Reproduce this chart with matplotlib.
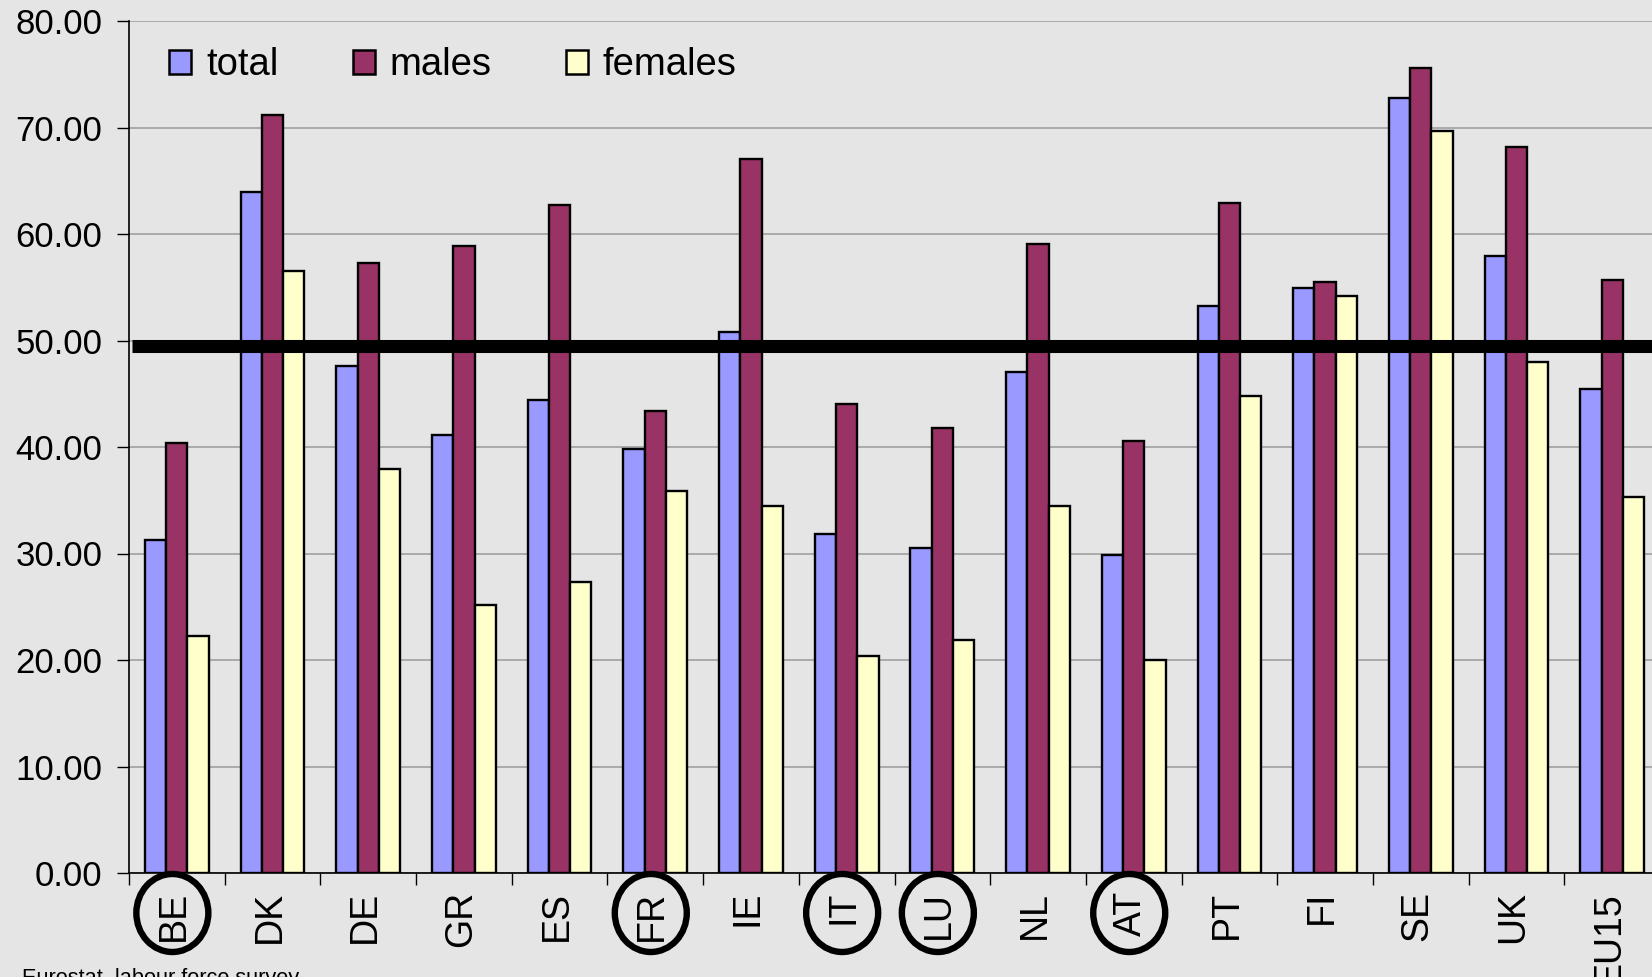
import matplotlib
matplotlib.use("Agg")
import matplotlib.pyplot as plt
import matplotlib.transforms as mtransforms
from matplotlib.patches import Ellipse
import numpy as np

plt.rcParams['font.family'] = ['Liberation Sans', 'DejaVu Sans']

countries = ["BE", "DK", "DE", "GR", "ES", "FR", "IE", "IT", "LU", "NL",
             "AT", "PT", "FI", "SE", "UK", "EU15"]
total = [31.3, 63.9, 47.6, 41.1, 44.4, 39.8, 50.8, 31.8, 30.5, 47.0,
         29.9, 53.2, 54.9, 72.8, 57.9, 45.4]
males = [40.4, 71.2, 57.3, 58.9, 62.7, 43.4, 67.0, 44.0, 41.8, 59.1,
         40.6, 62.9, 55.5, 75.6, 68.2, 55.7]
females = [22.3, 56.5, 37.9, 25.2, 27.3, 35.9, 34.5, 20.4, 21.9, 34.5,
           20.0, 44.8, 54.2, 69.7, 48.0, 35.3]
series_names = ["total", "males", "females"]
circled = ["BE", "FR", "IT", "LU", "AT"]
target = 49.5
yticks = [0, 10, 20, 30, 40, 50, 60, 70, 80]
source = "Eurostat, labour force survey"

colors = ["#9999FF", "#993366", "#FFFFCC"]
bg = "#E5E5E5"

W, H = 1652, 977
fig = plt.figure(figsize=(W / 100, H / 100), dpi=100, facecolor=bg)
ax = fig.add_axes([129 / W, (H - 873) / H, 1531 / W, 852 / H])
ax.set_facecolor(bg)

x = np.arange(len(countries))
bw = 1 / 4.5
for i, (vals, c, name) in enumerate(zip([total, males, females], colors, series_names)):
    ax.bar(x + (i - 1) * bw, vals, width=bw, color=c, edgecolor="black",
           linewidth=1.7, label=name, zorder=3)

ax.set_xlim(-0.5, len(countries) - 0.5)
ax.set_ylim(0, 80)

# thick reference line
ax.hlines(target, -0.47, len(countries), color="black", linewidth=9.4,
          zorder=5, capstyle="butt")

# grid
ax.set_yticks(yticks)
ax.set_yticklabels([f"{v:.2f}" for v in yticks])
ax.yaxis.grid(True, color="#A0A0A0", linewidth=1.2, zorder=0)
ax.set_axisbelow(True)

for s in ["top", "right"]:
    ax.spines[s].set_visible(False)
for s in ["left", "bottom"]:
    ax.spines[s].set_color("black")
    ax.spines[s].set_linewidth(1.2)

ax.tick_params(axis="y", length=8.6, width=1.0, pad=10.5, labelsize=25,
               colors="black")

# x: major ticks at boundaries (no labels), minor at centers (labels)
ax.set_xticks(np.arange(len(countries) + 1) - 0.5)
ax.set_xticklabels([])
ax.tick_params(axis="x", which="major", length=8.6, width=1.0)
ax.set_xticks(x, minor=True)
ax.set_xticklabels(countries, minor=True, rotation=90, fontsize=27,
                   va="top", ha="center")
ax.tick_params(axis="x", which="minor", length=0, pad=13)
offset = mtransforms.ScaledTranslation(-3 / 100, 0, fig.dpi_scale_trans)
for lab in ax.get_xticklabels(minor=True):
    lab.set_transform(lab.get_transform() + offset)

# circles around selected labels
trans = mtransforms.blended_transform_factory(ax.transData, ax.transAxes)
for c in circled:
    i = countries.index(c)
    e = Ellipse((i - 4.5 / 95.7, -40 / 852), width=72 / 95.7, height=78 / 852,
                transform=trans, fill=False, edgecolor="black", linewidth=4.6,
                clip_on=False, zorder=6)
    ax.add_patch(e)

leg = ax.legend(loc="upper left", bbox_to_anchor=(25 / 1531, 1 - 11 / 852),
                ncol=3, frameon=False, fontsize=27.5, handlelength=0.58,
                handleheight=0.58, handletextpad=0.38, columnspacing=1.95,
                borderaxespad=0)
for h in leg.legend_handles:
    h.set_linewidth(1.8)

fig.text(22 / W, (H - 968) / H, source, fontsize=15.7, va="top", ha="left")

fig.savefig("out.png", dpi=100, facecolor=bg)
